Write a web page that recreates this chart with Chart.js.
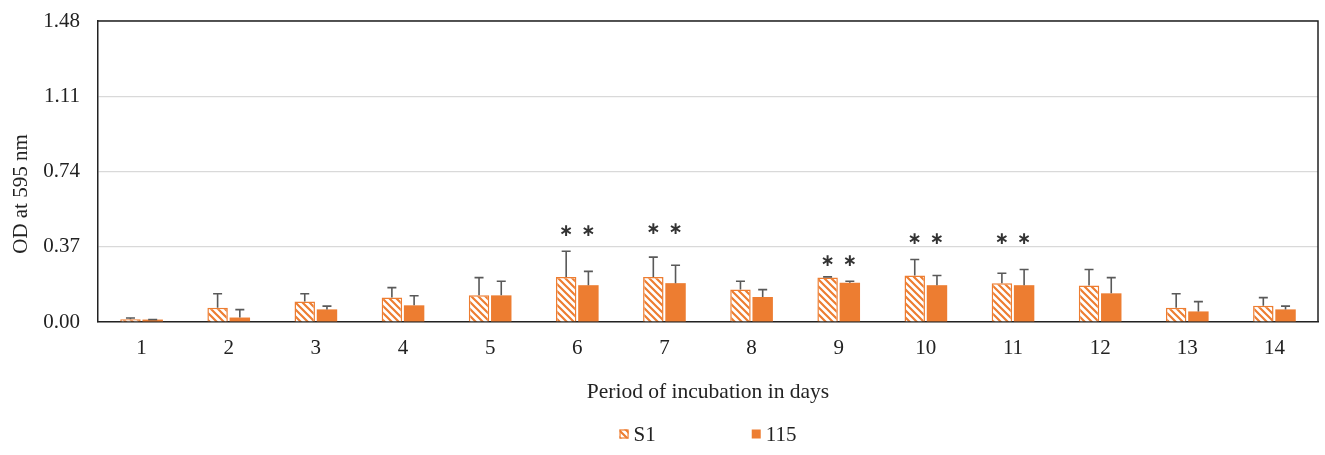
<!DOCTYPE html>
<html>
<head>
<meta charset="utf-8">
<script src="https://cdn.jsdelivr.net/npm/chart.js@4.4.0/dist/chart.umd.min.js"></script>
<style>
  html, body { margin: 0; padding: 0; background: #fff; }
  #wrap { width: 1325px; height: 455px; }
</style>
</head>
<body>
<div id="wrap"><canvas id="myChart" width="1325" height="455"></canvas></div>
<script>
// podatki
const days = ['1', '2', '3', '4', '5', '6', '7', '8', '9', '10', '11', '12', '13', '14'];
const s1Values = [0.013, 0.070, 0.101, 0.121, 0.131, 0.221, 0.221, 0.160, 0.219, 0.229, 0.191, 0.180, 0.070, 0.080];
const s1Errors = [0.007, 0.069, 0.038, 0.048, 0.087, 0.127, 0.098, 0.040, 0.003, 0.078, 0.049, 0.078, 0.069, 0.040];
const c115Values = [0.012, 0.022, 0.062, 0.082, 0.131, 0.181, 0.191, 0.123, 0.193, 0.181, 0.181, 0.141, 0.052, 0.062];
const c115Errors = [0.000, 0.039, 0.016, 0.047, 0.069, 0.068, 0.088, 0.036, 0.007, 0.048, 0.077, 0.077, 0.048, 0.016];
// višina zvezdic (značilnost) za posamezen dan
const starLevels = [null, null, null, null, null, 0.446, 0.456, null, 0.299, 0.407, 0.407, null, null, null];
const yTicks = [0, 0.37, 0.74, 1.11, 1.48];
const yTitle = 'OD at 595 nm';

const orange = '#ED7D31';
const serif = "'Liberation Serif', 'Times New Roman', serif";

// črtast vzorec za S1
function makeHatch() {
  const c = document.createElement('canvas');
  c.width = 7;
  c.height = 7;
  const g = c.getContext('2d');
  g.fillStyle = '#fff';
  g.fillRect(0, 0, 7, 7);
  g.strokeStyle = orange;
  g.lineWidth = 2.2;
  g.beginPath();
  g.moveTo(-1, -1); g.lineTo(8, 8);
  g.moveTo(-8, -1); g.lineTo(1, 8);
  g.moveTo(6, -1); g.lineTo(15, 8);
  g.stroke();
  return g.createPattern(c, 'repeat');
}
const hatch = makeHatch();

// napake, zvezdice, okvir in legenda
const extras = {
  id: 'extras',
  afterDatasetsDraw(chart) {
    const ctx = chart.ctx;
    const y = chart.scales.y;
    const errs = [s1Errors, c115Errors];
    ctx.save();
    ctx.strokeStyle = '#595959';
    ctx.lineWidth = 1.6;
    chart.data.datasets.forEach((ds, d) => {
      const meta = chart.getDatasetMeta(d);
      meta.data.forEach((bar, i) => {
        const top = y.getPixelForValue(ds.data[i] + errs[d][i]);
        ctx.beginPath();
        ctx.moveTo(bar.x, bar.y);
        ctx.lineTo(bar.x, top);
        ctx.moveTo(bar.x - 4.5, top);
        ctx.lineTo(bar.x + 4.5, top);
        ctx.stroke();
      });
    });
    // zvezdice
    ctx.fillStyle = '#333';
    ctx.font = "bold 17px 'DejaVu Sans'";
    ctx.textAlign = 'center';
    ctx.textBaseline = 'middle';
    starLevels.forEach((lvl, i) => {
      if (lvl === null) return;
      const py = y.getPixelForValue(lvl);
      [0, 1].forEach(d => {
        const bar = chart.getDatasetMeta(d).data[i];
        ctx.fillText('\u2217', bar.x, py);
      });
    });
    ctx.restore();
  },
  afterDraw(chart) {
    const ctx = chart.ctx;
    const a = chart.chartArea;
    ctx.save();
    ctx.strokeStyle = '#222';
    ctx.lineWidth = 1.5;
    ctx.beginPath();
    ctx.moveTo(a.left, a.top);
    ctx.lineTo(a.right, a.top);
    ctx.lineTo(a.right, a.bottom);
    ctx.stroke();

    // naslov y osi (nekoliko pod sredino, kot v izvirniku)
    ctx.save();
    ctx.translate(21, a.bottom - 128);
    ctx.rotate(-Math.PI / 2);
    ctx.font = '21px ' + serif;
    ctx.fillStyle = '#222';
    ctx.textAlign = 'center';
    ctx.textBaseline = 'middle';
    ctx.fillText(yTitle, 0, 0);
    ctx.restore();

    // legenda
    ctx.font = '21px ' + serif;
    ctx.textBaseline = 'middle';
    ctx.textAlign = 'left';
    const box = 9, gapText = 5, gapItem = 96;
    const items = chart.data.datasets.map(ds => ({
      label: ds.label, fill: ds.backgroundColor, border: ds.borderWidth > 0,
      w: box + gapText + ctx.measureText(ds.label).width
    }));
    const total = items.reduce((s, it) => s + it.w, 0) + gapItem * (items.length - 1);
    let x = (a.left + a.right) / 2 - total / 2;
    const ly = 434;
    items.forEach(it => {
      ctx.fillStyle = it.fill;
      ctx.fillRect(x, ly - box / 2, box, box);
      if (it.border) {
        ctx.strokeStyle = orange;
        ctx.lineWidth = 1.2;
        ctx.strokeRect(x + 0.5, ly - box / 2 + 0.5, box - 1, box - 1);
      }
      ctx.fillStyle = '#222';
      ctx.fillText(it.label, x + box + gapText, ly + 1);
      x += it.w + gapItem;
    });
    ctx.restore();
  }
};

const ctx = document.getElementById('myChart').getContext('2d');

const myChart = new Chart(ctx, {
  type: 'bar',
  data: {
    labels: days,
    datasets: [
      {
        label: 'S1',
        data: s1Values,
        backgroundColor: hatch,
        borderColor: orange,
        borderWidth: 1.5,
        categoryPercentage: 0.51,
        barPercentage: 0.92,
      },
      {
        label: '115',
        data: c115Values,
        backgroundColor: orange,
        borderWidth: 0,
        categoryPercentage: 0.51,
        barPercentage: 0.92,
      },
    ],
  },
  options: {
    responsive: false,
    animation: false,
    layout: { padding: { left: 10, right: 7, top: 21, bottom: 50 } },
    plugins: {
      legend: { display: false },
      tooltip: { enabled: false },
    },
    scales: {
      x: {
        grid: { display: false, drawTicks: false },
        border: { color: '#222', width: 1.5 },
        ticks: { color: '#222', font: { family: serif, size: 21 }, padding: 14 },
        title: {
          display: true,
          text: 'Period of incubation in days',
          color: '#222',
          font: { family: serif, size: 21.5 },
          padding: { top: 0, bottom: 0 },
        },
        afterFit(scale) {
          scale.height = 83;
          scale.paddingLeft = 0;
          scale.paddingRight = 0;
        },
      },
      y: {
        min: 0,
        max: 1.48,
        afterBuildTicks(scale) { scale.ticks = yTicks.map(v => ({ value: v })); },
        grid: { color: '#d9d9d9', lineWidth: 1.2, drawTicks: false },
        border: { color: '#222', width: 1.5 },
        ticks: {
          color: '#222',
          font: { family: serif, size: 21 },
          padding: 18,
          callback: v => Number(v).toFixed(2),
        },
        afterFit(scale) {
          scale.width = 88;
          scale.paddingTop = 0;
          scale.paddingBottom = 0;
        },
      },
    },
  },
  plugins: [extras],
});
</script>
</body>
</html>
